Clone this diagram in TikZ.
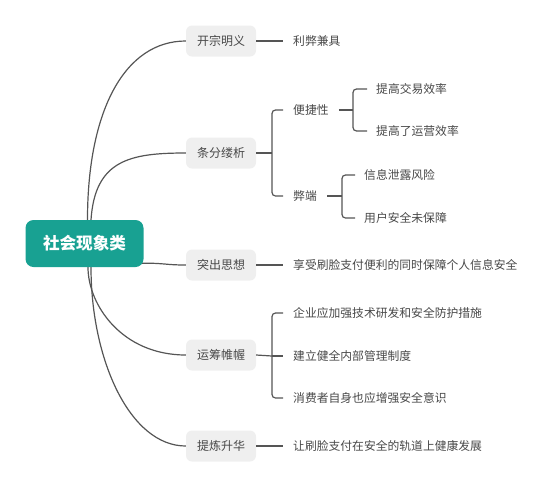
\documentclass[tikz,border=0pt]{standalone}
\usepackage{fontspec}
\newfontfamily\cjk{Noto Sans CJK SC}
\usetikzlibrary{backgrounds}
\definecolor{rootcol}{RGB}{24,161,146}
\definecolor{boxcol}{RGB}{239,239,239}
\definecolor{txtcol}{RGB}{72,72,72}
\definecolor{linecol}{RGB}{85,85,85}
\tikzset{
  rootbox/.style={fill=rootcol, text=white, rounded corners=8pt, minimum width=118pt, minimum height=47pt, inner sep=0pt, font=\cjk\bfseries\fontsize{16.6}{18}\selectfont},
  lonebox/.style={fill=boxcol, text=txtcol, rounded corners=6pt, minimum width=70pt, minimum height=31pt, inner sep=0pt, font=\cjk\fontsize{12}{14}\selectfont},
  leaf/.style={anchor=west, inner sep=0pt, text=txtcol, font=\cjk\fontsize{11.8}{14}\selectfont},
  conn/.style={draw=linecol, line width=1.2pt},
  brack/.style={draw=linecol, line width=1.2pt, rounded corners=3.5pt}
}
\begin{document}
\begin{tikzpicture}[x=1pt,y=-1pt]
\useasboundingbox (0,0) rectangle (553,488);
\node[rootbox] (root) at (84.5,243.5) {社会现象类};
\node[lonebox] (k1) at (221,41) {开宗明义};
\node[lonebox] (k2) at (221,153) {条分缕析};
\node[lonebox] (k3) at (221,265) {突出思想};
\node[lonebox] (k4) at (221,355) {运筹帷幄};
\node[lonebox] (k5) at (221,446) {提炼升华};
% leaves
\node[leaf] (a1) at (293,41) {利弊兼具};
\node[leaf] (b1) at (293,110) {便捷性};
\node[leaf] (b2) at (293,196) {弊端};
\node[leaf] (b11) at (376,89) {提高交易效率};
\node[leaf] (b12) at (376,131) {提高了运营效率};
\node[leaf] (b21) at (364,175) {信息泄露风险};
\node[leaf] (b22) at (364,218) {用户安全未保障};
\node[leaf] (c1) at (293,265) {享受刷脸支付便利的同时保障个人信息安全};
\node[leaf] (d1) at (293,313) {企业应加强技术研发和安全防护措施};
\node[leaf] (d2) at (293,356) {建立健全内部管理制度};
\node[leaf] (d3) at (293,398) {消费者自身也应增强安全意识};
\node[leaf] (e1) at (293,446) {让刷脸支付在安全的轨道上健康发展};
% bracket coordinates
\coordinate (j2) at (272,153);
\coordinate (jb) at (353,110);
\coordinate (jw) at (342,196);
\coordinate (j4) at (272,356);
\begin{scope}[on background layer]
\draw[conn] ([xshift=3pt]root.north) .. controls (87.5,110) and (125,41) .. (k1.west);
\draw[conn] ([xshift=6.5pt]root.north) .. controls (95,160) and (130,153) .. (k2.west);
\draw[conn] ([yshift=4pt,xshift=-2pt]root.south east) .. controls (165,263) and (165,265) .. (k3.west);
\draw[conn] ([xshift=3.5pt]root.south) .. controls (88,305) and (122,355) .. (k4.west);
\draw[conn] ([xshift=6.5pt]root.south) .. controls (91,360) and (130,446) .. (k5.west);
\end{scope}
% level 1 to level 2
\draw[conn] (k1.east) -- ([xshift=-10pt]a1.west);
\draw[conn] (k3.east) -- ([xshift=-10pt]c1.west);
\draw[conn] (k5.east) -- ([xshift=-10pt]e1.west);
\draw[conn] (k2.east) -- (j2);
\draw[brack] ([xshift=-10pt]b1.west) -| (j2) |- ([xshift=-10pt]b2.west);
\draw[conn] (k4.east) -- (j4);
\draw[brack] ([xshift=-10pt]d1.west) -| (j4) |- ([xshift=-10pt]d3.west);
\draw[conn] (j4) -- ([xshift=-10pt]d2.west);
% sub brackets
\draw[conn] ([xshift=10pt]b1.east) -- (jb);
\draw[brack] ([xshift=-9pt]b11.west) -| (jb) |- ([xshift=-9pt]b12.west);
\draw[conn] ([xshift=10pt]b2.east) -- (jw);
\draw[brack] ([xshift=-9pt]b21.west) -| (jw) |- ([xshift=-9pt]b22.west);
\end{tikzpicture}
\end{document}
